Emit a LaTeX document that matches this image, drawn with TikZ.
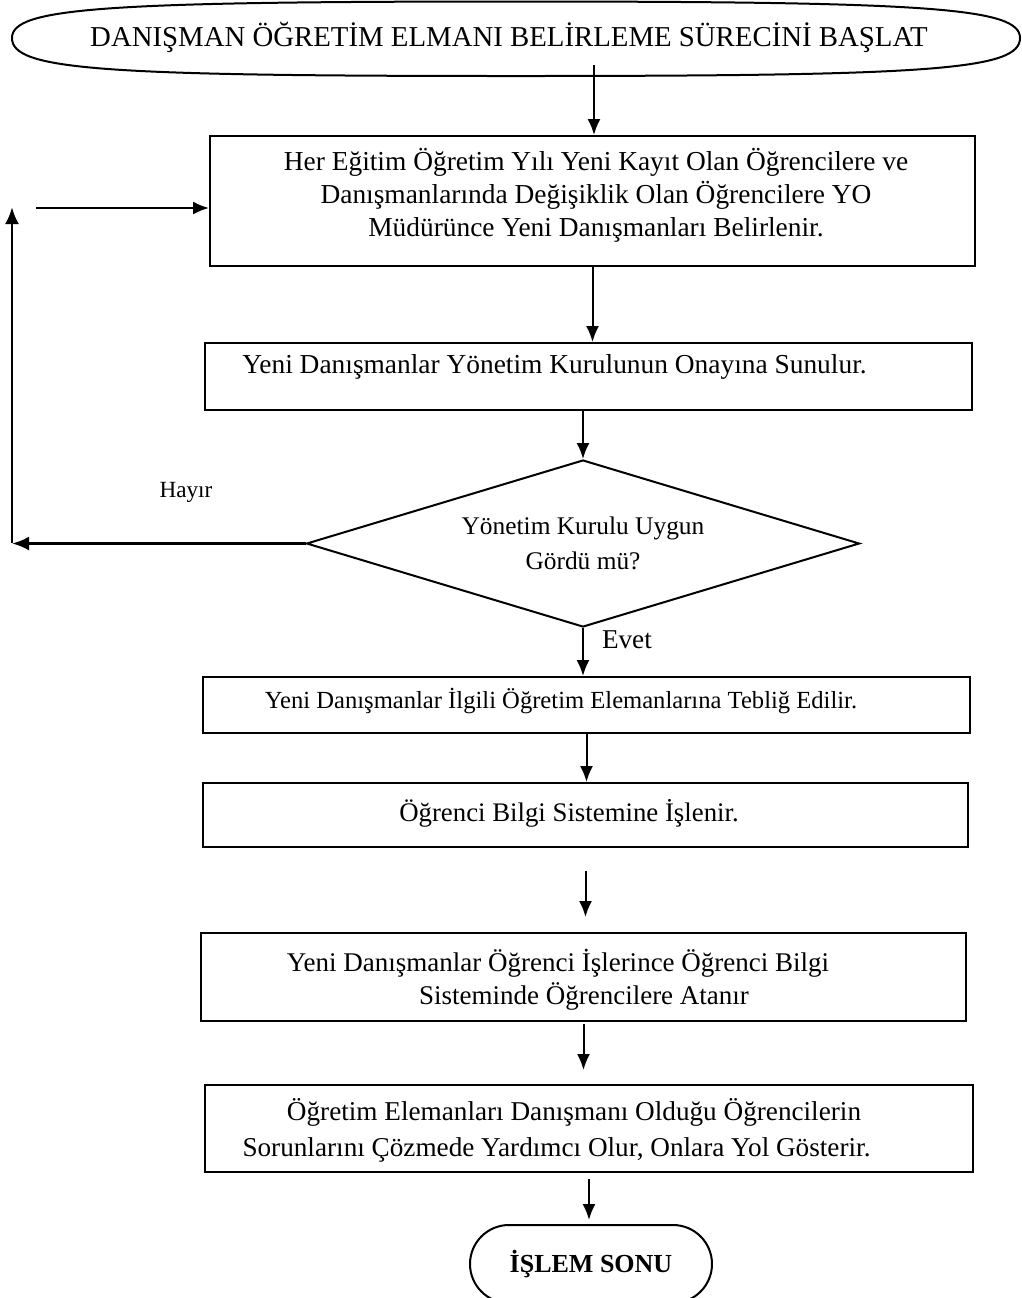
\documentclass[tikz,border=0pt]{standalone}
\usepackage{fontspec}
\setmainfont{Liberation Serif}
\usetikzlibrary{shapes.geometric,shapes.misc,arrows.meta}

\newcommand{\fsz}[2]{\fontsize{#1}{#2}\selectfont}

\begin{document}
\begin{tikzpicture}[
        x=0.5pt, y=-0.5pt,
        every node/.style={inner sep=0pt},
        stepbox/.style={rectangle, draw, line width=1pt},
        question/.style={diamond, draw, line width=1pt, aspect=3.3, align=center, font=\fsz{12.7}{17.5}},
        endbox/.style={rounded rectangle, draw, line width=1pt, font=\bfseries\fsz{13}{16}},
        body/.style={align=center, font=\fsz{13.7}{16.5}},
        flow/.style={-{Latex[length=8pt,width=6.5pt]}, line width=1pt},
        back/.style={-{Latex[length=8.5pt,width=7pt]}, line width=1.4pt}
    ]
        \useasboundingbox (0,0) rectangle (1022,1298);

        % start
        \draw[line width=1pt] (12,38) .. controls (12,8) and (100,1.5) .. (516,1.5)
            .. controls (932,1.5) and (1020,8) .. (1020,38)
            .. controls (1020,70) and (932,76) .. (516,76)
            .. controls (100,76) and (12,70) .. (12,38);
        \node[body, font=\fsz{14.4}{17}] (basla) at (509,37) {DANIŞMAN ÖĞRETİM ELMANI BELİRLEME SÜRECİNİ BAŞLAT};
        \coordinate (baslaout) at (594,65);

        % boxes
        \node[stepbox, minimum width=382.5pt, minimum height=65pt] (bir) at (592.5,201) {};
        \node[body] (t_bir) at (596,195) {Her Eğitim Öğretim Yılı Yeni Kayıt Olan Öğrencilere ve\\
            Danışmanlarında Değişiklik Olan Öğrencilere YO\\
            Müdürünce Yeni Danışmanları Belirlenir.};

        \node[stepbox, minimum width=383.5pt, minimum height=33.5pt] (onay) at (588.5,376.5) {};
        \node[body, anchor=west] (t_onay) at (242,367) {Yeni Danışmanlar Yönetim Kurulunun Onayına Sunulur.};

        \node[question, minimum width=276.5pt, minimum height=83.5pt] (soru) at (583,543.5) {Yönetim Kurulu Uygun\\Gördü mü?};

        \node[stepbox, minimum width=383.5pt, minimum height=28pt] (teblig) at (586.5,705) {};
        \node[body, font=\fsz{12.3}{15}] (t_teblig) at (561,701) {Yeni Danışmanlar İlgili Öğretim Elemanlarına Tebliğ Edilir.};

        \node[stepbox, minimum width=382.5pt, minimum height=32pt] (obs) at (585.5,815) {};
        \node[body, font=\fsz{13.4}{16}] (t_obs) at (569,813) {Öğrenci Bilgi Sistemine İşlenir.};

        \node[stepbox, minimum width=382.5pt, minimum height=44pt] (atama) at (583.5,977) {};
        \node[body, font=\fsz{13.5}{16.5}] (t_atama) at (558,979.5) {Yeni Danışmanlar Öğrenci İşlerince Öğrenci Bilgi\\
            \hspace*{26pt}Sisteminde Öğrencilere Atanır};

        \node[stepbox, minimum width=384pt, minimum height=43.5pt] (rehber) at (589,1128.5) {};
        \node[body, font=\fsz{13.6}{18}] (t_rehber) at (556.5,1130) {\hspace*{17.5pt}Öğretim Elemanları Danışmanı Olduğu Öğrencilerin\\
            Sorunlarını Çözmede Yardımcı Olur, Onlara Yol Gösterir.};

        \node[endbox, minimum width=121pt, minimum height=39pt] (son) at (591,1264) {İŞLEM SONU};

        % connectors
        \draw[flow] (baslaout) -- (baslaout |- bir.north);
        \draw[flow] (bir.south) -- (bir.south |- onay.north);
        \draw[flow] (onay.south -| soru.north) -- (soru.north);
        \draw[flow] (soru.south) -- (soru.south |- teblig.north) node[pos=0.25, right=9pt, font=\fsz{13.6}{16}] (evet) {Evet};
        \draw[flow] (teblig.south) -- (teblig.south |- obs.north);
        \draw[flow, shorten <=11.5pt, shorten >=7.5pt] (obs.south) -- (obs.south |- atama.north);
        \draw[flow, shorten <=1pt, shorten >=7pt] (atama.south) -- (atama.south |- rehber.north);
        \draw[flow, shorten <=3pt, shorten >=2pt] (rehber.south) -- (rehber.south |- son.north);

        % Hayir loop
        \coordinate (hkose) at (12,543);
        \coordinate (hust) at (12,207);
        \coordinate (hgiris) at (36,208);
        \node[font=\fsz{11.6}{14}] (hayir) at (186,492) {Hayır};
        \draw[back] (soru.west) -- (soru.west -| hkose);
        \draw[back] (hkose) -- (hust);
        \draw[flow] (hgiris) -- (hgiris -| bir.west);

    \end{tikzpicture}
\end{document}
